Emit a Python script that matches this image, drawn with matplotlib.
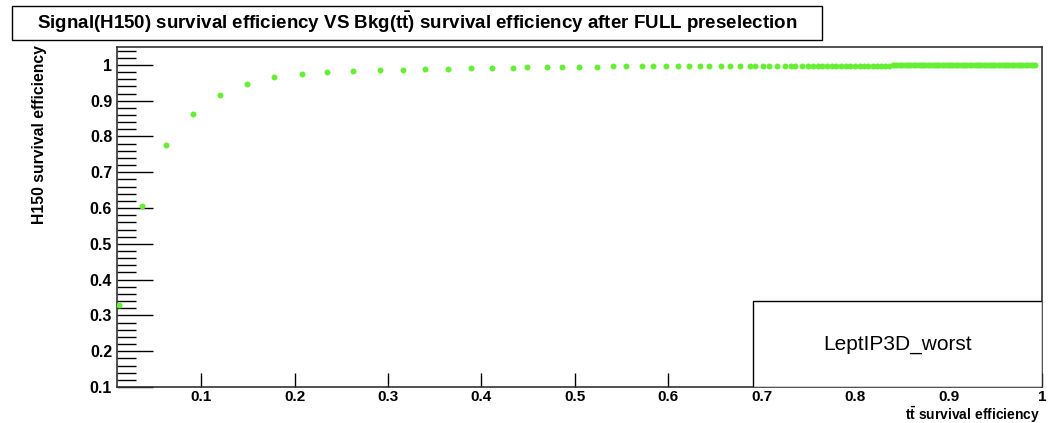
import matplotlib
matplotlib.use("Agg")
import matplotlib.pyplot as plt
from matplotlib.patches import Rectangle
from matplotlib.ticker import MultipleLocator

plt.rcParams['font.family'] = ['Liberation Sans', 'DejaVu Sans']
plt.rcParams['mathtext.default'] = 'regular'

# background (tt) efficiency vs signal (H150) efficiency
bkg_eff = [0.012, 0.037, 0.062, 0.091, 0.120, 0.149, 0.178, 0.208, 0.235, 0.263,
           0.291, 0.316, 0.340, 0.364, 0.389, 0.411, 0.434, 0.449, 0.470, 0.486,
           0.504, 0.524, 0.541, 0.555, 0.572, 0.584, 0.598, 0.610, 0.622, 0.634,
           0.644, 0.656, 0.666, 0.677, 0.687, 0.693, 0.701, 0.708, 0.716, 0.725,
           0.731, 0.736, 0.743, 0.750,
           0.755, 0.760, 0.765, 0.770, 0.775, 0.780, 0.785, 0.790, 0.795, 0.800,
           0.805, 0.810, 0.814, 0.819, 0.823, 0.828, 0.832, 0.836,
           0.840, 0.843, 0.845, 0.848, 0.850, 0.853, 0.855, 0.858, 0.860, 0.863,
           0.865, 0.868, 0.870, 0.873, 0.875, 0.878, 0.880, 0.883, 0.885, 0.888,
           0.890, 0.893, 0.895, 0.898, 0.900, 0.903, 0.905, 0.908, 0.910, 0.913,
           0.915, 0.918, 0.920, 0.923, 0.925, 0.928, 0.930, 0.933, 0.935, 0.938,
           0.940, 0.943, 0.945, 0.948, 0.950, 0.953, 0.955, 0.958, 0.960, 0.963,
           0.965, 0.968, 0.970, 0.973, 0.975, 0.978, 0.980, 0.983, 0.985, 0.988,
           0.990, 0.993]

sig_eff = [0.330, 0.605, 0.776, 0.862, 0.917, 0.948, 0.967, 0.975, 0.981, 0.982,
           0.985, 0.986, 0.988, 0.989, 0.990, 0.991, 0.992, 0.993, 0.993, 0.994,
           0.994, 0.995, 0.996, 0.996, 0.997, 0.997, 0.997, 0.997, 0.997, 0.997,
           0.997, 0.997, 0.997, 0.997, 0.997, 0.998, 0.997, 0.998, 0.997, 0.998,
           0.998, 0.998, 0.998, 0.998,
           0.998, 0.998, 0.998, 0.998, 0.998, 0.998, 0.998, 0.998, 0.998, 0.998,
           0.998, 0.998, 0.998, 0.998, 0.998, 0.998, 0.998, 0.998,
           0.999, 0.999, 0.999, 1.000, 1.000, 1.000, 1.000, 1.000, 1.000, 1.000,
           1.000, 1.000, 1.000, 1.000, 1.000, 1.000, 1.000, 1.000, 1.000, 1.000,
           1.000, 1.000, 1.000, 1.000, 1.000, 1.000, 1.000, 1.000, 1.000, 1.000,
           1.000, 1.000, 1.000, 1.000, 1.000, 1.000, 1.000, 1.000, 1.000, 1.000,
           1.000, 1.000, 1.000, 1.000, 1.000, 1.000, 1.000, 1.000, 1.000, 1.000,
           1.000, 1.000, 1.000, 1.000, 1.000, 1.000, 1.000, 1.000, 1.000, 1.000,
           1.000, 1.000]

x_ticks = [0.1, 0.2, 0.3, 0.4, 0.5, 0.6, 0.7, 0.8, 0.9, 1.0]
x_ticklabels = ['0.1', '0.2', '0.3', '0.4', '0.5', '0.6', '0.7', '0.8', '0.9', '1']
y_ticks = [0.1, 0.2, 0.3, 0.4, 0.5, 0.6, 0.7, 0.8, 0.9, 1.0]
y_ticklabels = ['0.1', '0.2', '0.3', '0.4', '0.5', '0.6', '0.7', '0.8', '0.9', '1']

fig = plt.figure(figsize=(10.48, 4.23), dpi=100)
ax = fig.add_axes([117 / 1048, 1 - 387 / 423, (1042 - 117) / 1048, (387 - 47) / 423])

ax.plot(bkg_eff, sig_eff, linestyle='none', marker='o', markersize=4.3,
        markerfacecolor='#66ee33', markeredgewidth=0, zorder=3)

ax.set_xlim(0.01, 1.0)
ax.set_ylim(0.1, 1.05)

ax.set_xticks(x_ticks)
ax.set_xticklabels(x_ticklabels, fontweight='bold', fontsize=11)
ax.set_yticks(y_ticks)
ax.set_yticklabels(y_ticklabels, fontweight='bold', fontsize=11.5)
ax.yaxis.set_minor_locator(MultipleLocator(0.02))

ax.tick_params(axis='x', which='major', direction='in', length=10, width=1, pad=2)
ax.tick_params(axis='y', which='major', direction='in', length=26, width=1, pad=3.5)
ax.tick_params(axis='y', which='minor', direction='in', length=14, width=1)
for s in ax.spines.values():
    s.set_linewidth(1.2)
    s.set_color('#333333')

fig.text(1040 / 1048, 1 - 414.5 / 423, r'$t\bar{t}$ survival efficiency',
         ha='right', va='center', fontsize=10, fontweight='bold')
fig.text(40 / 1048, 1 - 45 / 423, 'H150 survival efficiency', rotation=90,
         ha='center', va='top', fontsize=11.3, fontweight='bold')

# legend-like box
ax.add_patch(Rectangle((0.6876, 0.0), 1 - 0.6876, 0.253, transform=ax.transAxes,
                       facecolor='white', edgecolor='black', linewidth=1, zorder=4))
ax.text(0.6876 + (1 - 0.6876) / 2, 0.126, 'LeptIP3D_worst', transform=ax.transAxes,
        ha='center', va='center', fontsize=15, zorder=5)

# title box
fig.patches.append(Rectangle((12 / 1048, 1 - 40 / 423), (822 - 12) / 1048, 34 / 423,
                             transform=fig.transFigure, facecolor='white',
                             edgecolor='black', linewidth=1))
fig.text(417 / 1048, 1 - 22 / 423,
         r'Signal(H150) survival efficiency VS Bkg($t\bar{t}$) survival efficiency after FULL preselection',
         ha='center', va='center', fontsize=13.5, fontweight='bold')

fig.savefig('out.png', dpi=100)
